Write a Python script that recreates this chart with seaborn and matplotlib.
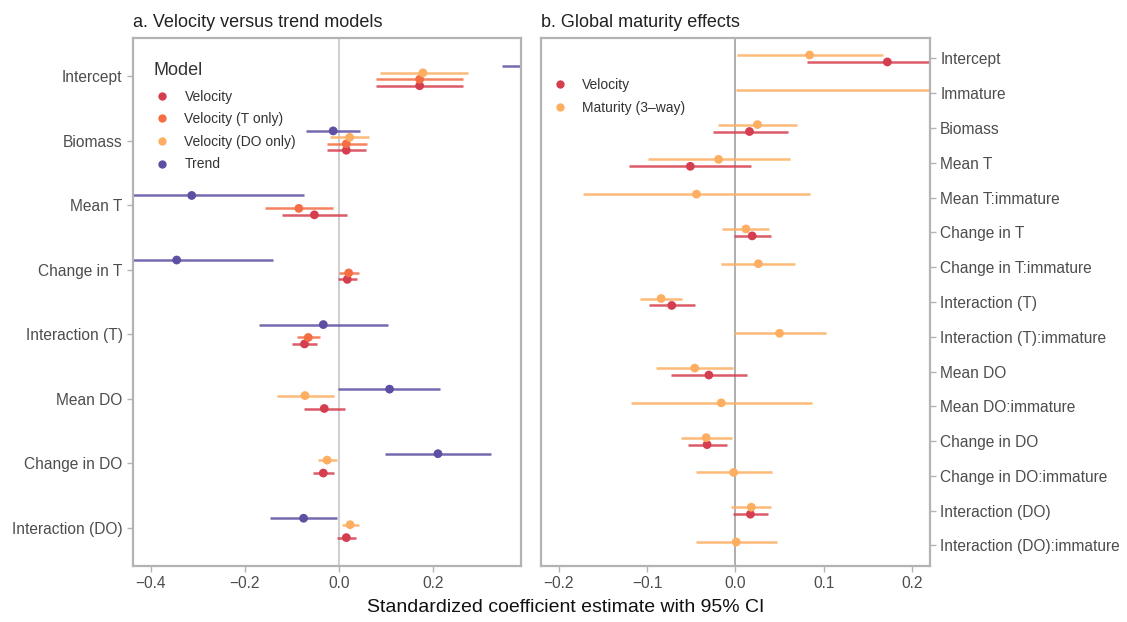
import numpy as np
import pandas as pd
import matplotlib
matplotlib.use("Agg")
import matplotlib.pyplot as plt
import seaborn as sns
from matplotlib.lines import Line2D

nan = np.nan

# ---------------- Panel a data ----------------
left_terms = ["Intercept", "Biomass", "Mean T", "Change in T", "Interaction (T)",
              "Mean DO", "Change in DO", "Interaction (DO)"]
vel_est = [0.172, 0.016, -0.052, 0.018, -0.073, -0.031, -0.033, 0.016]
vel_lo = [0.080, -0.026, -0.121, -0.002, -0.099, -0.074, -0.055, -0.004]
vel_hi = [0.265, 0.058, 0.017, 0.039, -0.047, 0.013, -0.011, 0.036]
tonly_est = [0.172, 0.016, -0.085, 0.021, -0.065, nan, nan, nan]
tonly_lo = [0.080, -0.026, -0.157, 0.000, -0.089, nan, nan, nan]
tonly_hi = [0.265, 0.060, -0.013, 0.042, -0.039, nan, nan, nan]
doonly_est = [0.179, 0.023, nan, nan, nan, -0.072, -0.025, 0.024]
doonly_lo = [0.087, -0.019, nan, nan, nan, -0.132, -0.045, 0.007]
doonly_hi = [0.274, 0.065, nan, nan, nan, -0.011, -0.004, 0.043]
trend_est = [0.45, -0.012, -0.313, -0.345, -0.033, 0.108, 0.211, -0.075]
trend_lo = [0.348, -0.070, -0.55, -0.55, -0.170, -0.001, 0.098, -0.146]
trend_hi = [0.55, 0.046, -0.074, -0.139, 0.104, 0.216, 0.324, -0.004]

left_models = ["Velocity", "Velocity (T only)", "Velocity (DO only)", "Trend"]

# ---------------- Panel b data ----------------
right_terms = ["Intercept", "Immature", "Biomass", "Mean T", "Mean T:immature",
               "Change in T", "Change in T:immature", "Interaction (T)",
               "Interaction (T):immature", "Mean DO", "Mean DO:immature",
               "Change in DO", "Change in DO:immature", "Interaction (DO)",
               "Interaction (DO):immature"]
mat_est = [0.084, 0.26, 0.025, -0.019, -0.044, 0.012, 0.026, -0.084, 0.050,
           -0.046, -0.016, -0.033, -0.002, 0.018, 0.001]
mat_lo = [0.002, 0.001, -0.020, -0.099, -0.172, -0.015, -0.016, -0.108, -0.002,
          -0.090, -0.118, -0.062, -0.045, -0.005, -0.044]
mat_hi = [0.167, 0.52, 0.070, 0.062, 0.085, 0.038, 0.068, -0.060, 0.102,
          -0.003, 0.087, -0.004, 0.042, 0.040, 0.047]
vel2_est = [0.172, nan, 0.016, -0.051, nan, 0.019, nan, -0.072, nan, -0.030, nan,
            -0.032, nan, 0.017, nan]
vel2_lo = [0.081, nan, -0.025, -0.120, nan, -0.002, nan, -0.098, nan, -0.073, nan,
           -0.054, nan, -0.003, nan]
vel2_hi = [0.265, nan, 0.059, 0.018, nan, 0.040, nan, -0.046, nan, 0.013, nan,
           -0.010, nan, 0.037, nan]

right_models = ["Velocity", "Maturity (3\u2013way)"]

colors = {"Velocity": "#d53e4f", "Velocity (T only)": "#f46d43",
          "Velocity (DO only)": "#fdae61", "Trend": "#5e4fa2",
          "Maturity (3\u2013way)": "#fdae61"}


def long_df(terms, models, ests, los, his, offsets):
    rows = []
    for m, e, lo, hi, off in zip(models, ests, los, his, offsets):
        for i, t in enumerate(terms):
            if np.isnan(e[i]):
                continue
            rows.append(dict(term=t, model=m, est=e[i], lo=lo[i], hi=hi[i],
                             y=i + off))
    return pd.DataFrame(rows)


left_df = long_df(left_terms, left_models,
                  [vel_est, tonly_est, doonly_est, trend_est],
                  [vel_lo, tonly_lo, doonly_lo, trend_lo],
                  [vel_hi, tonly_hi, doonly_hi, trend_hi],
                  [0.15, 0.05, -0.05, -0.15])
right_df = long_df(right_terms, right_models,
                   [vel2_est, mat_est], [vel2_lo, mat_lo], [vel2_hi, mat_hi],
                   [0.1, -0.1])

sns.set_theme(style="white")
plt.rcParams['font.family'] = ['Liberation Sans', 'DejaVu Sans']

fig = plt.figure(figsize=(11.27, 6.22), dpi=100)
axL = fig.add_axes([0.118, 0.090, 0.344, 0.849])
axR = fig.add_axes([0.480, 0.090, 0.345, 0.849])

border = "#b3b3b3"
txt = "#4d4d4d"


def draw(ax, df, models, terms, zero_color):
    ax.axvline(0, color=zero_color, lw=1.3, zorder=1)
    for m in models:
        sub = df[df.model == m]
        ax.hlines(sub.y, sub.lo, sub.hi, color=colors[m], lw=1.8, alpha=0.85,
                  zorder=2)
    sns.scatterplot(data=df, x="est", y="y", hue="model", hue_order=models,
                    palette=colors, s=40, linewidth=0, ax=ax, legend=False,
                    zorder=3)
    ax.set_yticks(range(len(terms)))
    ax.set_yticklabels(terms)
    ax.set_ylim(len(terms) - 1 + 0.59, -0.59)
    ax.set_xlabel("")
    ax.set_ylabel("")
    for s in ax.spines.values():
        s.set_color(border)
        s.set_linewidth(1.6)
    ax.tick_params(axis="both", colors=border, length=4, width=1,
                   labelcolor=txt, labelsize=11.2)


draw(axL, left_df, left_models, left_terms, "#cccccc")
draw(axR, right_df, right_models, right_terms, "#a8a8a8")

axL.set_xlim(-0.438, 0.387)
axL.set_xticks([-0.4, -0.2, 0.0, 0.2])
axR.set_xlim(-0.22, 0.22)
axR.set_xticks([-0.2, -0.1, 0.0, 0.1, 0.2])
axL.tick_params(axis="y", left=True)
axL.tick_params(axis="x", bottom=True)
axR.tick_params(axis="x", bottom=True)
axR.yaxis.tick_right()
axR.tick_params(axis="y", right=True, left=False)

axL.set_title("a. Velocity versus trend models", loc="left", fontsize=13,
              color="#222222", pad=8)
axR.set_title("b. Global maturity effects", loc="left", fontsize=13,
              color="#222222", pad=8)

hL = [Line2D([], [], marker="o", ls="", color=colors[m], markersize=6,
             markeredgewidth=0) for m in left_models]
legL = axL.legend(hL, left_models, title="Model", loc="upper left",
                  bbox_to_anchor=(0.02, 0.979), frameon=False, fontsize=10,
                  title_fontsize=13, handlelength=1.2, handletextpad=1.05,
                  labelspacing=0.62, alignment="left")
legL._legend_box.sep = 8.0
for t in legL.get_texts():
    t.set_color("#333333")
legL.get_title().set_color("#333333")

hR = [Line2D([], [], marker="o", ls="", color=colors[m], markersize=6,
             markeredgewidth=0) for m in right_models]
legR = axR.legend(hR, right_models, loc="upper left",
                  bbox_to_anchor=(-0.004, 0.948), frameon=False, fontsize=10,
                  handlelength=1.2, handletextpad=0.95, labelspacing=0.68)
for t in legR.get_texts():
    t.set_color("#333333")

fig.text(0.502, 0.024, "Standardized coefficient estimate with 95% CI",
         ha="center", va="center", fontsize=14, color="#111111")

fig.savefig("out.png", dpi=100, facecolor="white")
